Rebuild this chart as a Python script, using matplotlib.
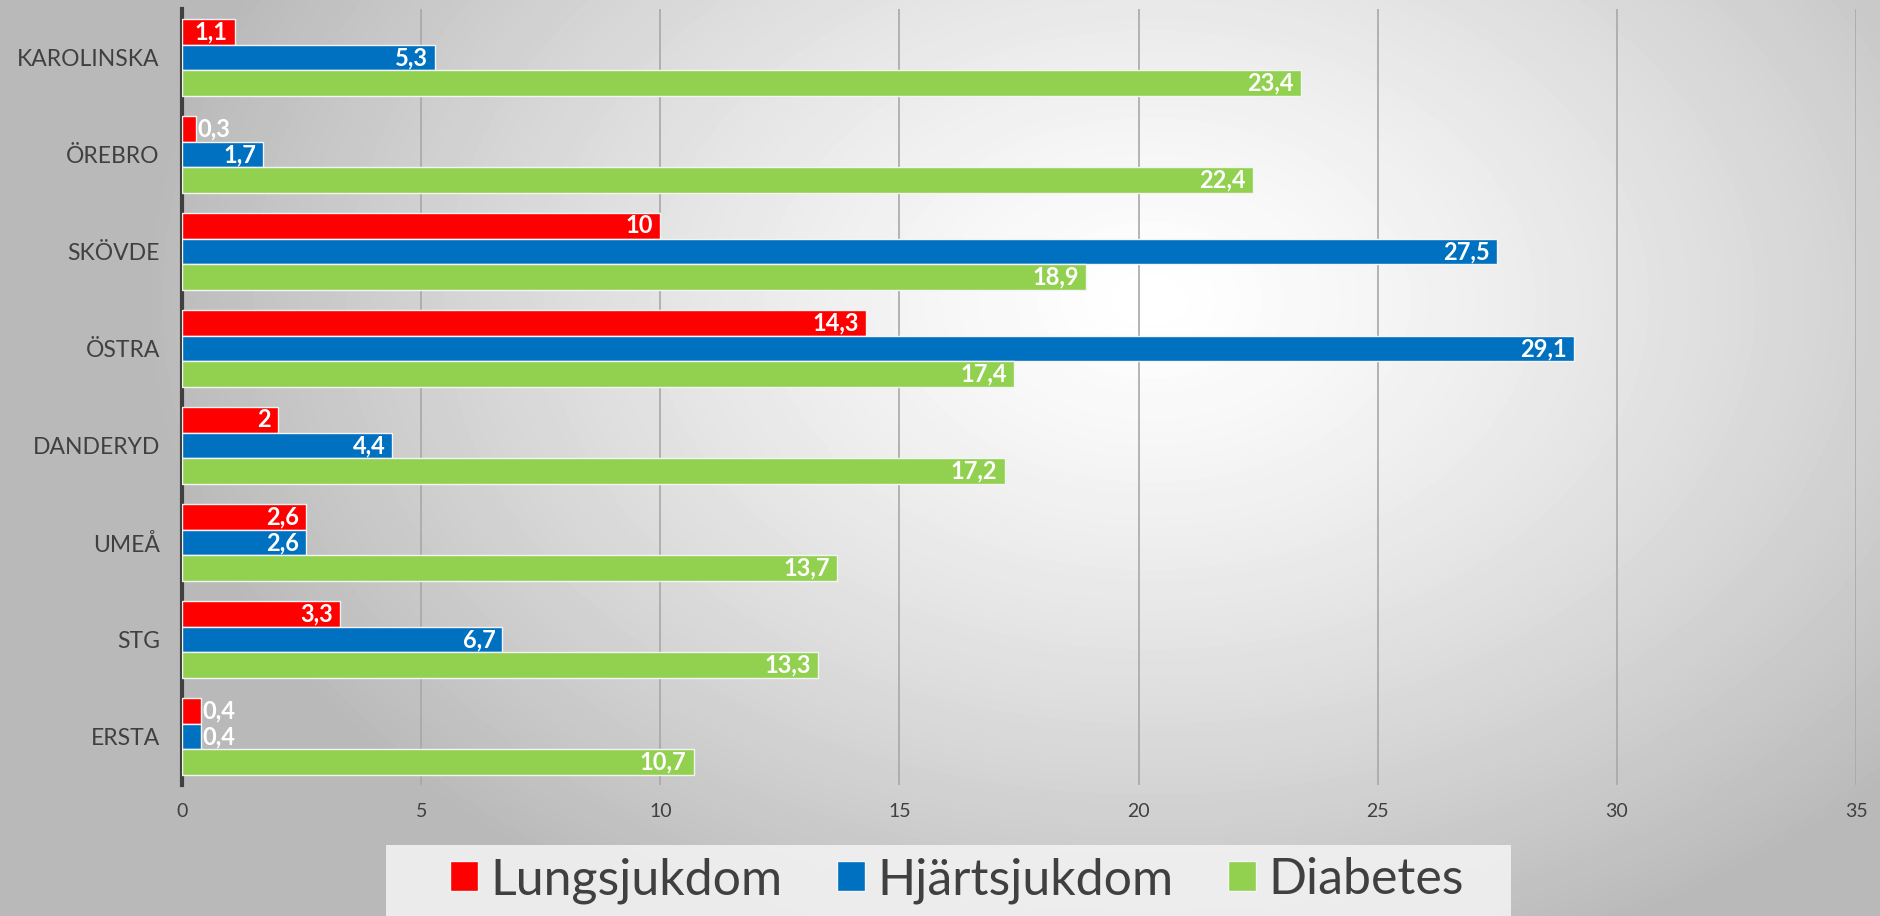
import numpy as np
import matplotlib.pyplot as plt
from matplotlib.patches import Rectangle

sjukhus = ["KAROLINSKA", "ÖREBRO", "SKÖVDE", "ÖSTRA", "DANDERYD", "UMEÅ", "STG", "ERSTA"]
lungsjukdom = [1.1, 0.3, 10, 14.3, 2, 2.6, 3.3, 0.4]
hjartsjukdom = [5.3, 1.7, 27.5, 29.1, 4.4, 2.6, 6.7, 0.4]
diabetes = [23.4, 22.4, 18.9, 17.4, 17.2, 13.7, 13.3, 10.7]
serier = ["Lungsjukdom", "Hjärtsjukdom", "Diabetes"]
farger = ["#FF0000", "#0070C0", "#92D050"]

plt.rcParams['font.family'] = ['Lato', 'DejaVu Sans']

fig = plt.figure(figsize=[18.8, 9.16], dpi=100)

# radial gradient background
bg = fig.add_axes([0, 0, 1, 1], zorder=-10)
h, l = 916, 1880
yy, xx = np.mgrid[0:h, 0:l]
d = np.sqrt(((xx - 1150) / 1000.0) ** 2 + ((yy - 300) / 700.0) ** 2)
d = np.clip(d, 0, 1)
grad = 1.0 - 0.27 * d ** 1.3
bg.imshow(grad, cmap='gray', vmin=0, vmax=1, aspect='auto', interpolation='bilinear')
bg.axis('off')

ax = fig.add_axes([182 / 1880, 1 - 785 / 916, (1856 - 182) / 1880, (785 - 9) / 916])
ax.patch.set_alpha(0)

y = np.arange(len(sjukhus))
bh = 0.267
data = [lungsjukdom, hjartsjukdom, diabetes]
for k, (vals, col, namn) in enumerate(zip(data, farger, serier)):
    pos = y + (k - 1) * bh
    ax.barh(pos, vals, height=bh, color=col, edgecolor='#f4f4f4', linewidth=1, label=namn, zorder=3)
    for p, v in zip(pos, vals):
        txt = ('%g' % v).replace('.', ',')
        if v < 1:
            ax.text(v + 0.02, p, txt, ha='left', va='center', color='white',
                    fontsize=17, fontweight='bold', zorder=4)
        else:
            ax.text(v - 0.15, p, txt, ha='right', va='center', color='white',
                    fontsize=17, fontweight='bold', zorder=4)

ax.set_xlim(0, 35)
ax.set_ylim(len(sjukhus) - 0.5, -0.5)
ax.set_xticks(np.arange(0, 36, 5))
ax.set_yticks(y)
ax.set_yticklabels(sjukhus, fontsize=16.5, color='#404040')
ax.tick_params(axis='x', labelsize=14, colors='#404040', length=0, pad=13)
ax.tick_params(axis='y', length=0, pad=16)
ax.grid(axis='x', color='#a8a8a8', linewidth=1.2, zorder=0)
ax.set_axisbelow(True)
for s in ['top', 'right', 'bottom']:
    ax.spines[s].set_visible(False)
ax.spines['left'].set_color('#404040')
ax.spines['left'].set_linewidth(3)

# legend panel
fig.patches.append(Rectangle((386 / 1880, 0), 1125 / 1880, 71 / 916, transform=fig.transFigure,
                             facecolor='#f4f4f4', edgecolor='none', alpha=0.85, zorder=1))
leg = fig.legend(loc='center', bbox_to_anchor=(0.509, 0.039), ncol=3, frameon=False,
                 fontsize=36, handlelength=0.55, handleheight=0.55, handletextpad=0.25,
                 columnspacing=1.1, labelcolor='#404040')

plt.savefig("out.png", dpi=100)
